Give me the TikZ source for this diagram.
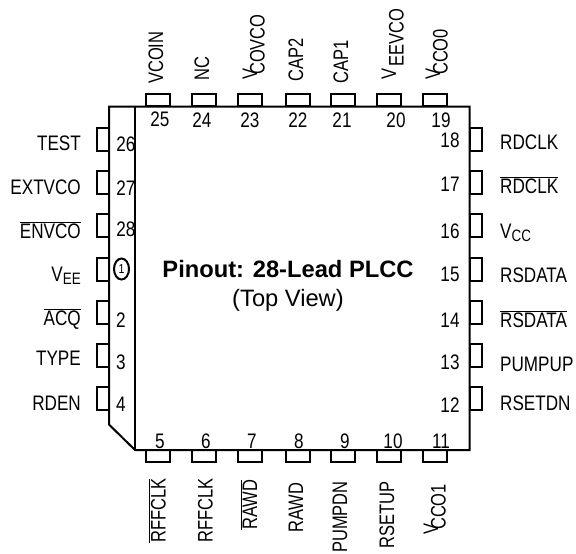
\documentclass[tikz,border=0pt]{standalone}
\usepackage{fontspec}
\setmainfont[FakeStretch=0.815]{Liberation Sans}
\newfontfamily\titlefont{Liberation Sans}
\newfontfamily\vertfont[FakeStretch=0.785]{Liberation Sans}
\usepackage{tikz}
\usetikzlibrary{shapes.geometric}

\newcommand{\barlabel}[1]{$\overline{\mbox{#1}}$}
\newcommand{\sublabel}[1]{V\raisebox{-3pt}{\fontsize{16.5}{16.5}\selectfont #1}}
\newcommand{\lowlabel}[2]{V\kern#1pt\raisebox{-7.5pt}{#2}}

\begin{document}
\begin{tikzpicture}[x=1pt, y=-1pt]
	\tikzstyle{pinh} = [rectangle, draw=black, line width = 2pt, minimum width = 24pt, minimum height = 12pt, inner sep = 0pt, outer sep = 0pt]
	\tikzstyle{pinv} = [rectangle, draw=black, line width = 2pt, minimum width = 12pt, minimum height = 23pt, inner sep = 0pt, outer sep = 0pt]
	\tikzstyle{package} = [draw=black, line width = 2pt, line join = miter]
	\tikzstyle{num} = [font=\fontsize{21}{21}\selectfont, inner sep = 0pt]
	\tikzstyle{lab} = [font=\fontsize{21}{21}\selectfont, inner sep = 0pt]
	\tikzstyle{labl} = [lab, anchor = base east]
	\tikzstyle{labr} = [lab, anchor = base west]
	\tikzstyle{labt} = [font=\vertfont\fontsize{21}{21}\selectfont, inner sep = 0pt, rotate = 90, anchor = base west]
	\useasboundingbox (0,0) rectangle (576,554);

	\node[pinh] at (158,100) (p25) {};
	\node[pinh] at (204,100) (p24) {};
	\node[pinh] at (250,100) (p23) {};
	\node[pinh] at (297.5,100) (p22) {};
	\node[pinh] at (343,100) (p21) {};
	\node[pinh] at (389,100) (p20) {};
	\node[pinh] at (435,100) (p19) {};

	\node[pinh] at (158,456) (p5) {};
	\node[pinh] at (204,456) (p6) {};
	\node[pinh] at (250,456) (p7) {};
	\node[pinh] at (297.5,456) (p8) {};
	\node[pinh] at (343,456) (p9) {};
	\node[pinh] at (389,456) (p10) {};
	\node[pinh] at (435,456) (p11) {};

	\node[pinv] at (102.5,139.5) (p26) {};
	\node[pinv] at (102.5,182.5) (p27) {};
	\node[pinv] at (102.5,225) (p28) {};
	\node[pinv] at (102.5,269.5) (p1) {};
	\node[pinv] at (102.5,312) (p2) {};
	\node[pinv] at (102.5,355) (p3) {};
	\node[pinv] at (102.5,398) (p4) {};

	\node[pinv] at (476,139.5) (p18) {};
	\node[pinv] at (476,182.5) (p17) {};
	\node[pinv] at (476,225) (p16) {};
	\node[pinv] at (476,269.5) (p15) {};
	\node[pinv] at (476,312) (p14) {};
	\node[pinv] at (476,355) (p13) {};
	\node[pinv] at (476,398) (p12) {};

	\draw[package] (109,106.5) -- (469.5,106.5) -- (469.5,450) -- (135,450) -- (109,424.5) -- cycle;
	\draw[package] (135,106.5) -- (135,450);

	\node[num] at (160,119) (n25) {25};
	\node[num] at (202,120) (n24) {24};
	\node[num] at (250,120) (n23) {23};
	\node[num] at (298,120) (n22) {22};
	\node[num] at (342,120) (n21) {21};
	\node[num] at (396,120) (n20) {20};
	\node[num] at (441,120) (n19) {19};

	\node[num] at (450,140) (n18) {18};
	\node[num] at (450,184) (n17) {17};
	\node[num] at (450,231) (n16) {16};
	\node[num] at (450,274) (n15) {15};
	\node[num] at (450,320) (n14) {14};
	\node[num] at (450,362) (n13) {13};
	\node[num] at (450,405) (n12) {12};

	\node[num] at (126,144) (n26) {26};
	\node[num] at (126,188) (n27) {27};
	\node[num] at (126,229) (n28) {28};
	\node[ellipse, draw=black, line width = 2pt, minimum width = 15pt, minimum height = 21pt, inner sep = 0pt, font=\fontsize{13}{13}\selectfont] at (121.5,269) (n1) {1};
	\node[num] at (121,320) (n2) {2};
	\node[num] at (121,362) (n3) {3};
	\node[num] at (121,404) (n4) {4};

	\node[num] at (160,441) (n5) {5};
	\node[num] at (206,441) (n6) {6};
	\node[num] at (252,441) (n7) {7};
	\node[num] at (299,441) (n8) {8};
	\node[num] at (345,441) (n9) {9};
	\node[num] at (393,441) (n10) {10};
	\node[num] at (441,441) (n11) {11};

	\node[labl] at (81,150) (test) {TEST};
	\node[labl] at (81,194) (extvco) {EXTVCO};
	\node[labl] at (81,238) (envco) {\barlabel{ENVCO}};
	\node[labl] at (81,281) (vee) {\sublabel{EE}};
	\node[labl] at (81,325) (acq) {\barlabel{ACQ}};
	\node[labl] at (81,365) (type) {TYPE};
	\node[labl] at (81,410) (rden) {RDEN};

	\node[labr] at (500,149) (rdclk) {RDCLK};
	\node[labr] at (500,193) (rdclkb) {\barlabel{RDCLK}};
	\node[labr] at (500,238) (vcc) {\sublabel{CC}};
	\node[labr] at (500,282) (rsdata) {RSDATA};
	\node[labr] at (500,327) (rsdatab) {\barlabel{RSDATA}};
	\node[labr] at (500,371) (pumpup) {PUMPUP};
	\node[labr] at (500,410) (rsetdn) {RSETDN};

	\node[labt] at (163,84) (vcoin) {VCOIN};
	\node[labt] at (209,81) (nc) {NC};
	\node[labt] at (257,80) (vcovco) {\lowlabel{-6}{COVCO}};
	\node[labt] at (303,82) (cap2) {CAP2};
	\node[labt] at (348,84) (cap1) {CAP1};
	\node[labt] at (396,80) (veevco) {\lowlabel{2}{EEVCO}};
	\node[labt] at (440,80) (vcco0) {\lowlabel{-6}{CCO0}};

	\node[labt] at (165.5,543) (rffclkb) {\barlabel{RFFCLK}};
	\node[labt] at (212.5,543) (rffclk) {RFFCLK};
	\node[labt] at (257,530) (rawdb) {\barlabel{RAWD}};
	\node[labt] at (303,533) (rawd) {RAWD};
	\node[labt] at (347,553) (pumpdn) {PUMPDN};
	\node[labt] at (394,549) (rsetup) {RSETUP};
	\node[labt] at (438,535) (vcco1) {\lowlabel{-6}{CCO1}};

	\node[font=\titlefont\fontsize{23.7}{23.7}\selectfont\bfseries] at (288,269) (title) {Pinout: 28-Lead PLCC};
	\node[font=\titlefont\fontsize{23.7}{23.7}\selectfont] at (288,300) (view) {(Top View)};
\end{tikzpicture}
\end{document}
